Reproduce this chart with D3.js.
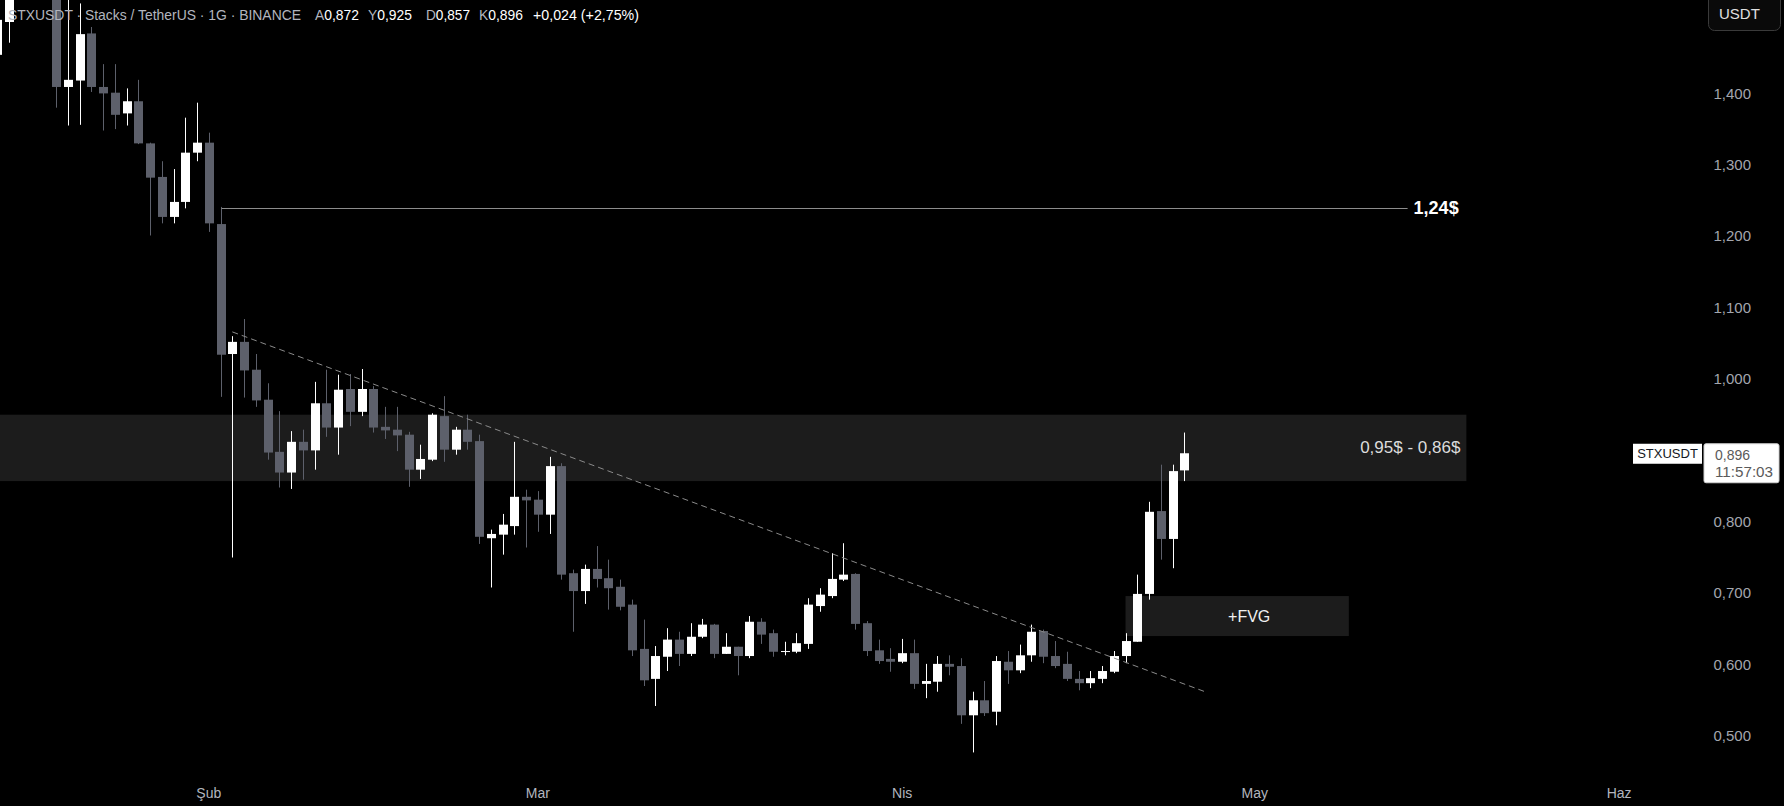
<!DOCTYPE html>
<html>
<head>
<meta charset="utf-8">
<script src="https://cdn.jsdelivr.net/npm/d3@7"></script>
<style>
  html, body { margin: 0; padding: 0; background: #000; overflow: hidden; }
  svg { display: block; }
</style>
</head>
<body>
<div id="chart"></div>
<script>
// Daily STX/USDT candles (Binance), Jan 14 - Apr 25 2025
var dates = [
  "2025-01-14","2025-01-15","2025-01-16","2025-01-17","2025-01-18","2025-01-19","2025-01-20","2025-01-21","2025-01-22","2025-01-23",
  "2025-01-24","2025-01-25","2025-01-26","2025-01-27","2025-01-28","2025-01-29","2025-01-30","2025-01-31",
  "2025-02-01","2025-02-02","2025-02-03","2025-02-04","2025-02-05","2025-02-06","2025-02-07","2025-02-08","2025-02-09","2025-02-10",
  "2025-02-11","2025-02-12","2025-02-13","2025-02-14","2025-02-15","2025-02-16","2025-02-17","2025-02-18","2025-02-19","2025-02-20",
  "2025-02-21","2025-02-22","2025-02-23","2025-02-24","2025-02-25","2025-02-26","2025-02-27","2025-02-28",
  "2025-03-01","2025-03-02","2025-03-03","2025-03-04","2025-03-05","2025-03-06","2025-03-07","2025-03-08","2025-03-09","2025-03-10",
  "2025-03-11","2025-03-12","2025-03-13","2025-03-14","2025-03-15","2025-03-16","2025-03-17","2025-03-18","2025-03-19","2025-03-20",
  "2025-03-21","2025-03-22","2025-03-23","2025-03-24","2025-03-25","2025-03-26","2025-03-27","2025-03-28","2025-03-29","2025-03-30","2025-03-31",
  "2025-04-01","2025-04-02","2025-04-03","2025-04-04","2025-04-05","2025-04-06","2025-04-07","2025-04-08","2025-04-09","2025-04-10",
  "2025-04-11","2025-04-12","2025-04-13","2025-04-14","2025-04-15","2025-04-16","2025-04-17","2025-04-18","2025-04-19","2025-04-20",
  "2025-04-21","2025-04-22","2025-04-23","2025-04-24","2025-04-25"
];

var opens = [
  1.454,1.500,1.560,1.600,1.630,1.580,1.409,1.418,1.484,1.409,
  1.401,1.372,1.389,1.330,1.283,1.227,1.248,1.317,
  1.331,1.217,1.035,1.052,1.013,0.971,0.898,0.869,0.912,0.900,
  0.966,0.932,0.986,0.954,0.986,0.933,0.929,0.922,0.873,0.887,
  0.948,0.901,0.929,0.913,0.777,0.782,0.794,0.835,
  0.831,0.810,0.878,0.728,0.703,0.734,0.721,0.709,0.684,0.622,
  0.580,0.611,0.635,0.615,0.639,0.656,0.615,0.625,0.612,0.660,
  0.644,0.618,0.618,0.629,0.682,0.696,0.719,0.727,0.658,0.620,0.608,
  0.604,0.616,0.573,0.576,0.601,0.598,0.529,0.550,0.534,0.604,
  0.592,0.613,0.647,0.612,0.601,0.580,0.574,0.580,0.590,0.612,
  0.632,0.699,0.815,0.776,0.872
];
var highs = [
  1.514,1.580,1.620,1.660,1.660,1.600,1.560,1.526,1.493,1.441,
  1.441,1.407,1.419,1.331,1.305,1.294,1.366,1.387,
  1.345,1.241,1.060,1.084,1.035,0.994,0.955,0.927,0.929,0.996,
  1.013,1.006,1.007,1.014,0.990,0.961,0.961,0.926,0.908,0.952,
  0.976,0.933,0.950,0.922,0.789,0.811,0.912,0.845,
  0.843,0.891,0.882,0.733,0.740,0.766,0.747,0.719,0.691,0.663,
  0.626,0.651,0.646,0.658,0.664,0.657,0.644,0.625,0.668,0.665,
  0.649,0.632,0.644,0.693,0.707,0.756,0.770,0.728,0.661,0.635,0.623,
  0.636,0.635,0.601,0.612,0.613,0.609,0.562,0.577,0.612,0.619,
  0.628,0.656,0.649,0.633,0.618,0.591,0.591,0.598,0.619,0.644,
  0.726,0.828,0.880,0.880,0.925
];
var lows = [
  1.444,1.471,1.545,1.560,1.550,1.380,1.355,1.356,1.402,1.348,
  1.350,1.355,1.329,1.201,1.218,1.218,1.239,1.305,
  1.206,0.975,0.750,0.974,0.961,0.887,0.848,0.846,0.859,0.873,
  0.919,0.894,0.934,0.948,0.925,0.916,0.899,0.849,0.860,0.885,
  0.884,0.894,0.901,0.769,0.708,0.754,0.782,0.764,
  0.786,0.783,0.719,0.646,0.685,0.708,0.677,0.676,0.612,0.570,
  0.542,0.591,0.598,0.612,0.637,0.609,0.615,0.585,0.609,0.629,
  0.611,0.613,0.616,0.622,0.674,0.693,0.717,0.649,0.612,0.601,0.590,
  0.602,0.566,0.553,0.562,0.585,0.517,0.477,0.528,0.515,0.573,
  0.588,0.604,0.602,0.595,0.577,0.564,0.567,0.574,0.588,0.602,
  0.632,0.691,0.747,0.735,0.857
];
var closes = [
  1.503,1.560,1.600,1.630,1.580,1.409,1.419,1.483,1.409,1.400,
  1.370,1.389,1.330,1.282,1.227,1.248,1.317,1.331,
  1.218,1.034,1.052,1.012,0.970,0.897,0.869,0.912,0.900,0.966,
  0.932,0.985,0.954,0.986,0.932,0.928,0.921,0.873,0.888,0.950,
  0.901,0.929,0.912,0.779,0.783,0.796,0.835,0.830,
  0.810,0.878,0.726,0.703,0.734,0.720,0.707,0.681,0.620,0.578,
  0.612,0.635,0.615,0.639,0.656,0.615,0.625,0.612,0.660,0.642,
  0.618,0.619,0.630,0.684,0.698,0.720,0.726,0.657,0.619,0.605,0.604,
  0.616,0.573,0.577,0.601,0.597,0.529,0.550,0.532,0.605,0.592,
  0.613,0.646,0.611,0.598,0.580,0.574,0.581,0.591,0.612,0.633,
  0.699,0.814,0.776,0.871,0.896
];

// axis ticks (0,900 is hidden under the last-price label)
var yTicks = [0.5, 0.6, 0.7, 0.8, 1.0, 1.1, 1.2, 1.3, 1.4];
var monthTicks = ["2025-02-01", "2025-03-01", "2025-04-01", "2025-05-01", "2025-06-01"];
var monthLabels = ["Şub", "Mar", "Nis", "May", "Haz"];

// drawings on the chart
var resistLevel = 1.24;
var resistDates = ["2025-02-02", "2025-05-14"];
var zoneTop = 0.95, zoneBottom = 0.857;
var zoneEnd = "2025-05-19";
var fvgTop = 0.696, fvgBottom = 0.640;
var fvgDates = ["2025-04-20", "2025-05-09"];
var trendDates = ["2025-02-03T00:00:00Z", "2025-04-26T20:00:00Z"];
var trendValues = [1.066, 0.5616];

function init() {
    var w = 1784;
    var h = 806;
    var bodyW = 9;
    var upColor = "#ffffff";
    var downColor = "#5d606b";
    var parse = d3.isoParse;

    var candles = dates.map(function(d, i) {
        return { date: parse(d), open: opens[i], high: highs[i], low: lows[i], close: closes[i] };
    });

    var svg = d3.select("#chart")
        .append("svg")
        .attr("width", w)
        .attr("height", h)
        .style("background", "#000");

    // x: one day is ~11.75px, Jan 19 sits at x=56
    var xScale = d3.scaleUtc()
        .domain([parse("2025-01-19"), parse("2025-06-08")])
        .range([56, 56 + 140 * 11.753]);

    var yScale = d3.scaleLinear()
        .domain([0.5, 1.4])
        .range([736, 93.4]);

    var fmt3 = function(v) { return d3.format(".3f")(v).replace(".", ","); };

    // support / resistance zone
    svg.append("rect")
        .attr("x", 0)
        .attr("y", yScale(zoneTop))
        .attr("width", xScale(parse(zoneEnd)))
        .attr("height", yScale(zoneBottom) - yScale(zoneTop))
        .attr("fill", "#1c1c1c");

    svg.append("text")
        .attr("x", xScale(parse(zoneEnd)) - 6)
        .attr("y", (yScale(zoneTop) + yScale(zoneBottom)) / 2)
        .attr("dy", "0.32em")
        .attr("text-anchor", "end")
        .attr("fill", "#dcdcdc")
        .style("font", "17px 'Liberation Sans', Arial, sans-serif")
        .text("0,95$ - 0,86$");

    // FVG box
    svg.append("rect")
        .attr("x", xScale(parse(fvgDates[0])))
        .attr("y", yScale(fvgTop))
        .attr("width", xScale(parse(fvgDates[1])) - xScale(parse(fvgDates[0])))
        .attr("height", yScale(fvgBottom) - yScale(fvgTop))
        .attr("fill", "#1c1c1c");

    svg.append("text")
        .attr("x", (xScale(parse(fvgDates[0])) + xScale(parse(fvgDates[1]))) / 2 + 12)
        .attr("y", (yScale(fvgTop) + yScale(fvgBottom)) / 2)
        .attr("dy", "0.35em")
        .attr("text-anchor", "middle")
        .attr("fill", "#f0f0f0")
        .style("font", "16px 'Liberation Sans', Arial, sans-serif")
        .text("+FVG");

    // candles
    var g = svg.append("g");
    var c = g.selectAll("g.candle")
        .data(candles)
        .enter()
        .append("g")
        .attr("class", "candle");

    c.append("line")
        .attr("x1", function(d) { return Math.round(xScale(d.date)) + 0.5; })
        .attr("x2", function(d) { return Math.round(xScale(d.date)) + 0.5; })
        .attr("y1", function(d) { return yScale(d.high); })
        .attr("y2", function(d) { return yScale(d.low); })
        .attr("stroke", function(d) { return d.close >= d.open ? upColor : downColor; })
        .attr("stroke-width", 1);

    c.append("rect")
        .attr("x", function(d) { return Math.round(xScale(d.date)) - 4; })
        .attr("y", function(d) { return yScale(Math.max(d.open, d.close)); })
        .attr("width", bodyW)
        .attr("height", function(d) {
            return Math.max(1, Math.abs(yScale(d.open) - yScale(d.close)));
        })
        .attr("fill", function(d) { return d.close >= d.open ? upColor : downColor; });

    // 1,24$ level
    svg.append("line")
        .attr("x1", Math.round(xScale(parse(resistDates[0]))) + 0.5)
        .attr("x2", xScale(parse(resistDates[1])))
        .attr("y1", Math.round(yScale(resistLevel)) + 0.5)
        .attr("y2", Math.round(yScale(resistLevel)) + 0.5)
        .attr("stroke", "#8c8c8c")
        .attr("stroke-width", 1);

    svg.append("text")
        .attr("x", xScale(parse(resistDates[1])) + 6)
        .attr("y", yScale(resistLevel))
        .attr("dy", "0.34em")
        .attr("fill", "#ffffff")
        .style("font", "bold 18px 'Liberation Sans', Arial, sans-serif")
        .text("1,24$");

    // dashed trend line
    svg.append("line")
        .attr("x1", xScale(parse(trendDates[0])))
        .attr("y1", yScale(trendValues[0]))
        .attr("x2", xScale(parse(trendDates[1])))
        .attr("y2", yScale(trendValues[1]))
        .attr("stroke", "#8a8a8a")
        .attr("stroke-width", 1)
        .attr("stroke-dasharray", "6,4");

    // y axis labels (right)
    svg.append("g").selectAll("text")
        .data(yTicks)
        .enter()
        .append("text")
        .attr("x", 1751)
        .attr("y", function(d) { return yScale(d); })
        .attr("dy", "0.35em")
        .attr("text-anchor", "end")
        .attr("fill", "#a3a6ae")
        .style("font", "15px 'Liberation Sans', Arial, sans-serif")
        .text(fmt3);

    // x axis month labels
    svg.append("g").selectAll("text")
        .data(monthTicks)
        .enter()
        .append("text")
        .attr("x", function(d) { return xScale(parse(d)); })
        .attr("y", 798)
        .attr("text-anchor", "middle")
        .attr("fill", "#b2b5be")
        .style("font", "14px 'Liberation Sans', Arial, sans-serif")
        .text(function(d, i) { return monthLabels[i]; });

    // last price label
    var last = candles[candles.length - 1];
    var ly = yScale(last.close);
    svg.append("rect")
        .attr("x", 1633).attr("y", ly - 9.5)
        .attr("width", 69).attr("height", 20)
        .attr("fill", "#ffffff");
    svg.append("text")
        .attr("x", 1667.5).attr("y", ly + 0.5)
        .attr("dy", "0.35em")
        .attr("text-anchor", "middle")
        .attr("fill", "#131722")
        .style("font", "13px 'Liberation Sans', Arial, sans-serif")
        .text("STXUSDT");
    svg.append("rect")
        .attr("x", 1704).attr("y", ly - 9.5)
        .attr("width", 75).attr("height", 39)
        .attr("rx", 2)
        .attr("fill", "#ffffff")
        .attr("stroke", "#d0d0d0");
    svg.append("text")
        .attr("x", 1715).attr("y", ly + 1.5)
        .attr("dy", "0.35em")
        .attr("fill", "#5a5a5a")
        .style("font", "14px 'Liberation Sans', Arial, sans-serif")
        .text(fmt3(last.close));
    svg.append("text")
        .attr("x", 1715).attr("y", ly + 18.5)
        .attr("dy", "0.35em")
        .attr("textLength", 58).attr("lengthAdjust", "spacingAndGlyphs")
        .attr("fill", "#5a5a5a")
        .style("font", "14px 'Liberation Sans', Arial, sans-serif")
        .text("11:57:03");

    // currency button
    svg.append("rect")
        .attr("x", 1708.5).attr("y", -8)
        .attr("width", 72).attr("height", 38.5)
        .attr("rx", 6)
        .attr("fill", "#0a0a0a")
        .attr("stroke", "#3a3a3a");
    svg.append("text")
        .attr("x", 1719).attr("y", 19)
        .attr("fill", "#e0e0e0")
        .style("font", "15px 'Liberation Sans', Arial, sans-serif")
        .text("USDT");

    // header legend
    var hf = "14.5px 'Liberation Sans', Arial, sans-serif";
    svg.append("text")
        .attr("x", 8).attr("y", 19.5)
        .attr("textLength", 293).attr("lengthAdjust", "spacingAndGlyphs")
        .attr("fill", "#b2b5be")
        .style("font", hf)
        .text("STXUSDT · Stacks / TetherUS · 1G · BINANCE");

    var ohlc = [["A", last.open, 315], ["Y", last.high, 368], ["D", last.low, 426], ["K", last.close, 479]];
    ohlc.forEach(function(o) {
        var t = svg.append("text")
            .attr("x", o[2]).attr("y", 19.5)
            .attr("textLength", 44).attr("lengthAdjust", "spacingAndGlyphs")
            .style("font", hf);
        t.append("tspan").attr("fill", "#b2b5be").text(o[0]);
        t.append("tspan").attr("fill", "#ffffff").text(fmt3(o[1]));
    });

    svg.append("text")
        .attr("x", 533).attr("y", 19.5)
        .attr("textLength", 106).attr("lengthAdjust", "spacingAndGlyphs")
        .attr("fill", "#ffffff")
        .style("font", hf)
        .text("+" + fmt3(0.024) + " (+" + d3.format(".2f")(2.75).replace(".", ",") + "%)");
}

window.onload = init;
</script>
</body>
</html>
